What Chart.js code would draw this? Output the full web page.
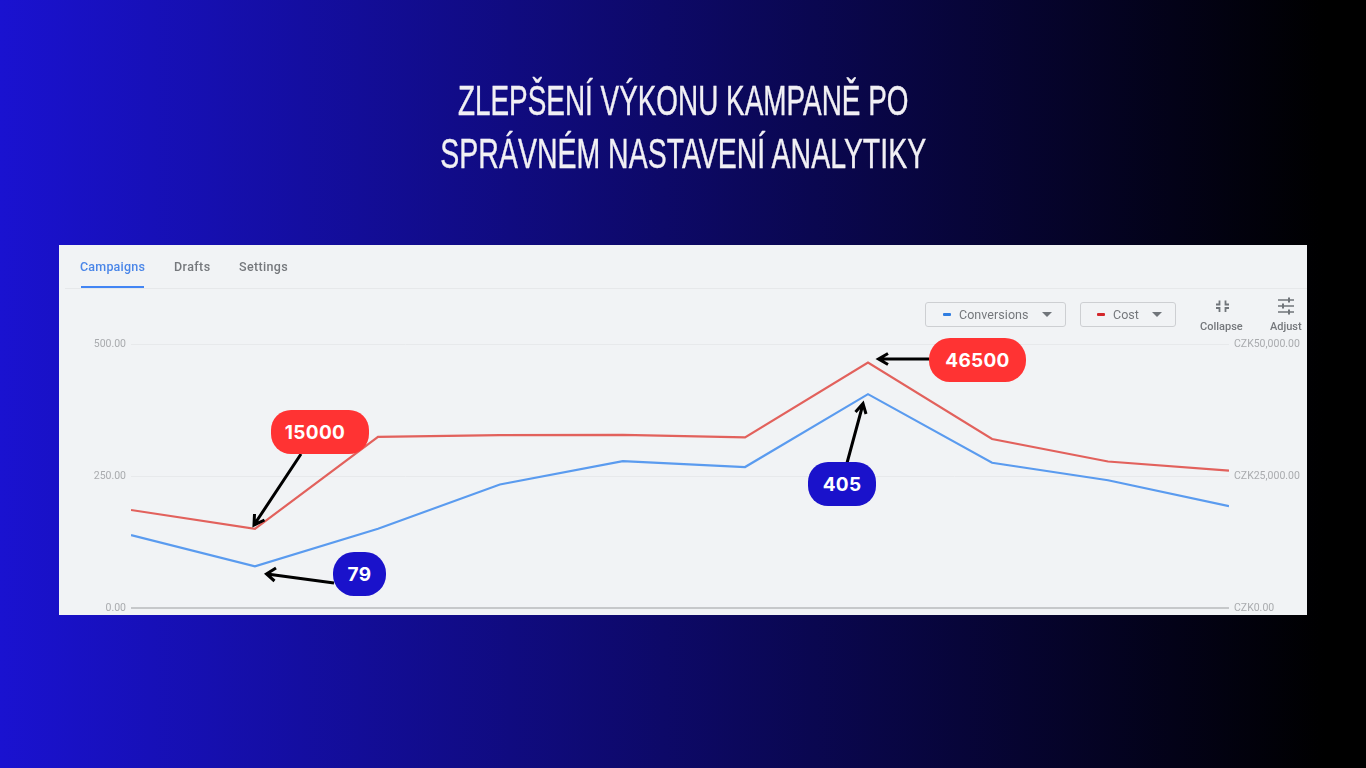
<!DOCTYPE html>
<html><head><meta charset="utf-8">
<script src="https://cdn.jsdelivr.net/npm/chart.js@4"></script>
<style>
html,body{margin:0;padding:0;width:1366px;height:768px;overflow:hidden}
body{position:relative;background:linear-gradient(90deg,#1a12d0 0%,#000 97%);font-family:Roboto,sans-serif}
.title{position:absolute;left:0;width:1366px;text-align:center;color:#f1f0f4;font:400 42px "Liberation Sans",sans-serif;white-space:nowrap;line-height:53px;-webkit-text-stroke:.4px #f1f0f4}
.title span{display:inline-block}
#panel{position:absolute;left:59px;top:245px;width:1248px;height:370px;background:#f1f3f5}
#ui{position:absolute;left:0;top:0;width:1366px;height:768px;filter:blur(.55px);pointer-events:none}
.t{position:absolute;white-space:nowrap;line-height:1}
.box{position:absolute;border:1.5px solid #cdcfd2;border-radius:3px;box-sizing:border-box;height:25px;top:302px}
.dash{position:absolute;height:3px;width:8px;top:313px;border-radius:1px}
.tri{position:absolute;top:312px;width:0;height:0;border-left:5px solid transparent;border-right:5px solid transparent;border-top:5px solid #70757a}
#c{position:absolute;left:0;top:0;filter:blur(.4px)}
.pill{position:absolute;height:44px;color:#fff;font:700 19px Inter,sans-serif;line-height:45px;text-align:center;letter-spacing:.3px}
#arrows{position:absolute;left:0;top:0}
</style></head>
<body>
<div class="title" style="top:74px"><span style="transform:scaleX(.664)">ZLEPŠENÍ VÝKONU KAMPANĚ PO</span></div>
<div class="title" style="top:127px"><span style="transform:scaleX(.678)">SPRÁVNÉM NASTAVENÍ ANALYTIKY</span></div>
<div id="panel"></div>
<div id="ui">
  <div class="t" style="left:80px;top:259px;font:500 12.5px Roboto;letter-spacing:.2px;color:#4a86e8">Campaigns</div>
  <div class="t" style="left:174px;top:259px;font:500 12.5px Roboto;letter-spacing:.4px;color:#75787c">Drafts</div>
  <div class="t" style="left:239px;top:259px;font:500 12.5px Roboto;letter-spacing:.35px;color:#75787c">Settings</div>
  <div style="position:absolute;left:65px;top:288px;width:1242px;height:1px;background:#e6e8ea"></div>
  <div style="position:absolute;left:81px;top:286px;width:63px;height:2px;background:#4285f4"></div>
  <div class="box" style="left:925px;width:141px"></div>
  <div class="dash" style="left:943px;background:#2f7de1"></div>
  <div class="t" style="left:959px;top:307px;font:400 12.5px Roboto;letter-spacing:.05px;color:#75787c">Conversions</div>
  <div class="tri" style="left:1042px"></div>
  <div class="box" style="left:1080px;width:96px"></div>
  <div class="dash" style="left:1097px;background:#d3272b"></div>
  <div class="t" style="left:1113px;top:307px;font:400 12.5px Roboto;color:#75787c">Cost</div>
  <div class="tri" style="left:1152px"></div>
  <svg style="position:absolute;left:1212px;top:296px" width="22" height="20" fill="none" stroke="#70757a" stroke-width="1.8">
    <path d="M7.500 4.500V8.500H4M13.500 4.500V8.500H17M7.500 16V12H4M13.500 16V12H17"/>
  </svg>
  <div class="t" style="left:1200px;top:320px;font:500 11px Roboto;color:#75787c">Collapse</div>
  <svg style="position:absolute;left:1276px;top:296px" width="20" height="20" fill="none" stroke="#70757a" stroke-width="1.6">
    <path d="M2 4H18M2 10H18M2 16H18"/><path d="M13 1.500V6.500M7 7.500V12.500M13 13.500V18.500" stroke-width="2"/>
  </svg>
  <div class="t" style="left:1270px;top:320px;font:500 11px Roboto;color:#75787c">Adjust</div>
</div>
<canvas id="c" width="1366" height="768" style="width:1366px;height:768px"></canvas>
<svg id="arrows" width="1366" height="768" fill="none" stroke="#000" stroke-width="3">
  <path d="M301 454L254 525M254.500 514L254 525L264.500 520"/>
  <path d="M334 583L267 574M276 568L266.500 574L274.500 581"/>
  <path d="M847 463L863 404M855.500 412L863 403.500L866 414"/>
  <path d="M929 359L879 359M888 353.500L878.500 359L888 364.500"/>
</svg>
<div class="pill" style="left:271px;top:410px;width:98px;border-radius:20px;background:#ff3333;text-indent:-10px">15000</div>
<div class="pill" style="left:929px;top:338px;width:97px;border-radius:21px;background:#ff3333">46500</div>
<div class="pill" style="left:808px;top:462px;width:68px;border-radius:20px;background:#1a12cb">405</div>
<div class="pill" style="left:333px;top:552px;width:53px;border-radius:21px;background:#1a12cb">79</div>
<script>
const periods = [0,1.008,2.009,3,4,4.994,5.994,7.003,7.946,8.93];
const conversions = [138,79,150,234,278,267,405,275,242,193];
const cost = [18560,15000,32400,32750,32800,32300,46500,32000,27750,26000];
const leftMax = 500;
const rightMax = 50000;
const tickStepLeft = 250;
const tickStepRight = 25000;

new Chart(document.getElementById('c'), {
  type: 'line',
  data: {
    datasets: [
      {label:'Cost', data:periods.map((x,i)=>({x,y:cost[i]})), yAxisID:'y1', borderColor:'#e2615c', borderWidth:2.2, pointRadius:0, tension:0, fill:false},
      {label:'Conversions', data:periods.map((x,i)=>({x,y:conversions[i]})), yAxisID:'y', borderColor:'#5a9bef', borderWidth:2.2, pointRadius:0, tension:0, fill:false}
    ]
  },
  options: {
    responsive:false, animation:false, devicePixelRatio:1,
    layout:{padding:{left:0,right:0,top:344,bottom:160}},
    plugins:{legend:{display:false},tooltip:{enabled:false},title:{display:false}},
    scales:{
      x:{type:'linear', display:false, min:0, max:periods[periods.length-1]},
      y:{
        position:'left', min:0, max:leftMax,
        afterFit(s){s.width=131;},
        border:{display:false},
        grid:{drawTicks:false, color:c=>c.tick.value===0?'#c6c8ca':'#e7e9eb', lineWidth:c=>c.tick.value===0?2:1},
        ticks:{stepSize:tickStepLeft, padding:5, color:'#a9abae', font:{family:'Roboto',size:10.5}, callback:v=>v.toFixed(2)}
      },
      y1:{
        position:'right', min:0, max:rightMax,
        afterFit(s){s.width=137;},
        border:{display:false},
        grid:{display:false, drawTicks:false},
        ticks:{stepSize:tickStepRight, padding:5, color:'#a9abae', font:{family:'Roboto',size:10.5},
          callback:v=>'CZK'+v.toLocaleString('en-US',{minimumFractionDigits:2,maximumFractionDigits:2})}
      }
    }
  }
});
</script>
</body></html>
